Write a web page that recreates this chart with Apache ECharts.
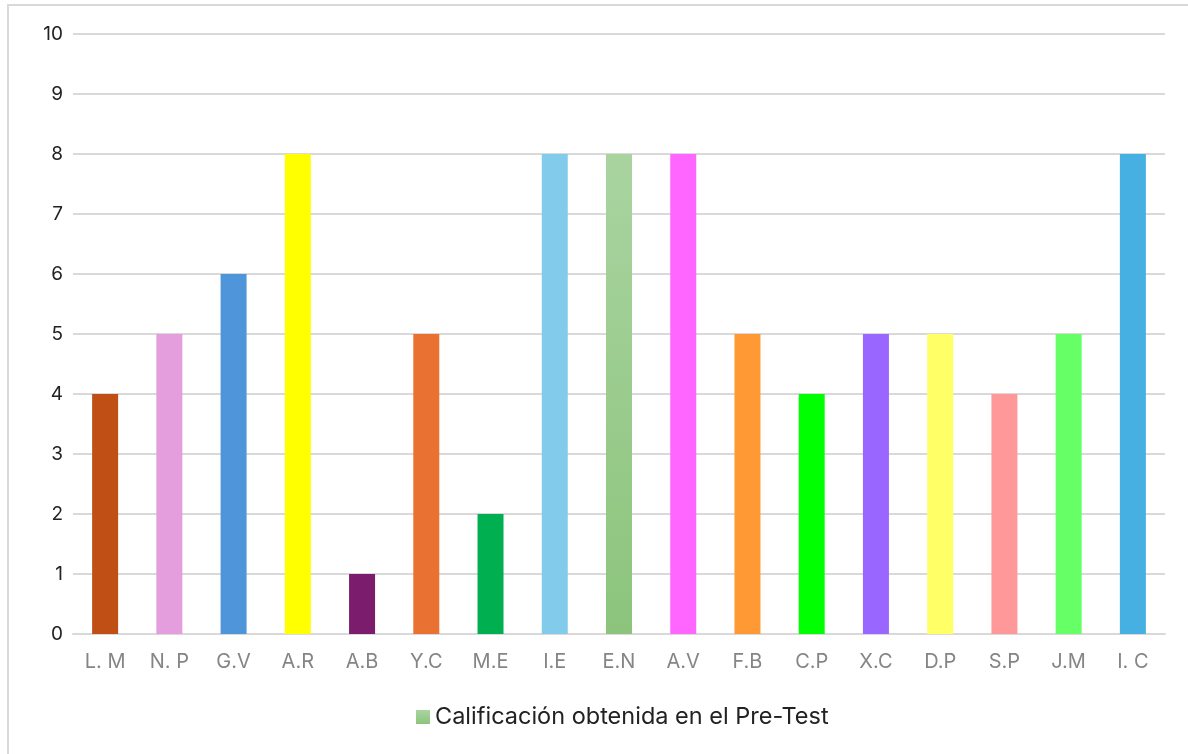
<!DOCTYPE html>
<html>
<head>
<meta charset="utf-8">
<script src="https://cdn.jsdelivr.net/npm/echarts@6/dist/echarts.min.js"></script>
<style>
html,body{margin:0;padding:0;background:#fff;overflow:hidden;width:1188px;height:754px;}
#frame{position:absolute;left:7px;top:4px;width:1400px;height:1000px;border-left:2px solid #d9d9d9;border-top:2px solid #d9d9d9;box-sizing:border-box;}
#chart{position:absolute;left:0;top:0;width:1188px;height:754px;}
</style>
</head>
<body>
<div id="frame"></div>
<div id="chart"></div>
<script>
const categories = ["L. M","N. P","G.V","A.R","A.B","Y.C","M.E","I.E","E.N","A.V","F.B","C.P","X.C","D.P","S.P","J.M","I. C"];
const scores = [4,5,6,8,1,5,2,8,8,8,5,4,5,5,4,5,8];
const barColors = ["#C04F15","#E59EDD","#4E95D9","#FFFF00","#7B1C6D","#E97132","#00B050","#83CBEB","EN","#FF66FF","#FF9933","#00FF00","#9966FF","#FFFF66","#FF9999","#66FF66","#45B0E1"];
const seriesName = "Calificación obtenida en el Pre-Test";
const yTicks = {min:0,max:10,interval:1};

const FONT = 'Inter, "Noto Sans", sans-serif';
const enGradient = new echarts.graphic.LinearGradient(0,0,0,1,[{offset:0,color:"#A9D4A0"},{offset:1,color:"#8CC47C"}]);
const chart = echarts.init(document.getElementById('chart'));
chart.setOption({
  animation:false,
  grid:{left:73,right:23,top:34,bottom:120,containLabel:false},
  legend:{bottom:20,left:411,itemWidth:14,itemHeight:14,itemGap:6,icon:'rect',
    textStyle:{fontFamily:FONT,fontSize:23.5,color:'#222'},
    data:[seriesName]},
  xAxis:{type:'category',data:categories,
    axisLine:{lineStyle:{color:'#d9d9d9',width:2}},axisTick:{show:false},
    axisLabel:{color:'#858585',fontSize:20,margin:18,fontFamily:FONT}},
  yAxis:{type:'value',min:yTicks.min,max:yTicks.max,interval:yTicks.interval,
    axisLine:{show:false},axisTick:{show:false},
    splitLine:{lineStyle:{color:'#d9d9d9',width:2}},
    axisLabel:{color:'#222',fontSize:19,margin:10,fontFamily:FONT}},
  series:[{name:seriesName,type:'bar',barWidth:26,
    itemStyle:{color:enGradient},
    data:scores.map((v,i)=>({value:v,itemStyle:{color:barColors[i]==="EN"?enGradient:barColors[i]}}))}]
});
</script>
</body>
</html>
